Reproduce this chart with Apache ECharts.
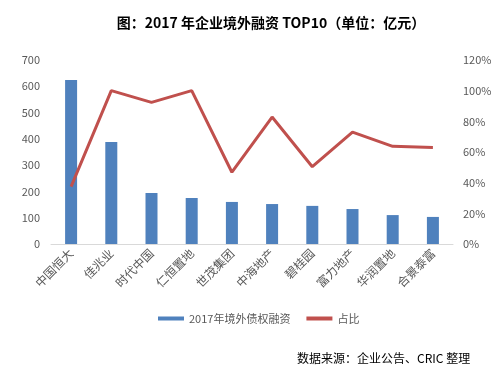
<!DOCTYPE html>
<html>
<head>
<meta charset="utf-8">
<script src="https://cdn.jsdelivr.net/npm/echarts@6/dist/echarts.min.js"></script>
<style>
  html, body { margin: 0; padding: 0; background: #fff; }
  #chart { width: 497px; height: 378px; }
</style>
</head>
<body>
<div id="chart"></div>
<script>
// data
var companies = ['中国恒大', '佳兆业', '时代中国', '仁恒置地', '世茂集团', '中海地产', '碧桂园', '富力地产', '华润置地', '合景泰富']
var amounts = [624, 388, 194, 175, 160, 152, 145, 133, 110, 103]
var shares = [37.4, 100, 92.4, 100, 46.8, 82.8, 50.4, 73, 63.7, 63]
var leftTicks = [0, 100, 200, 300, 400, 500, 600, 700]
var rightTicks = [0, 20, 40, 60, 80, 100, 120]

var font = 'Microsoft YaHei, "Noto Sans CJK SC", sans-serif'
var myChart = echarts.init(document.getElementById('chart'))
var option = {
    backgroundColor: '#fff',
    title: [{
        text: '图：2017 年企业境外融资 TOP10（单位：亿元）',
        left: 266,
        textAlign: 'center',
        top: 11,
        textStyle: { color: '#000', fontSize: 14, fontWeight: 'bold', fontFamily: font }
    }, {
        text: '数据来源：企业公告、CRIC 整理',
        left: 292,
        top: 347,
        textStyle: { color: '#000', fontSize: 12, fontWeight: 'normal', fontFamily: font }
    }],
    legend: {
        top: 308,
        left: 153,
        itemWidth: 26,
        itemHeight: 4,
        itemGap: 16,
        textStyle: { color: '#595959', fontSize: 11, fontFamily: font },
        data: [
            { name: '2017年境外债权融资', icon: 'rect' },
            { name: '占比', icon: 'rect' }
        ]
    },
    grid: { left: 51, right: 44, top: 60, height: 184 },
    xAxis: {
        type: 'category',
        data: companies,
        axisLine: { lineStyle: { color: '#d9d9d9' } },
        axisTick: { show: false },
        axisLabel: { interval: 0, rotate: 45, color: '#595959', fontSize: 12, fontFamily: font, margin: 7 }
    },
    yAxis: [{
        type: 'value',
        min: leftTicks[0],
        max: leftTicks[leftTicks.length - 1],
        interval: 100,
        axisLine: { show: false },
        axisTick: { show: false },
        splitLine: { show: false },
        axisLabel: { color: '#595959', fontSize: 11, fontFamily: font, margin: 11 }
    }, {
        type: 'value',
        min: rightTicks[0],
        max: rightTicks[rightTicks.length - 1],
        interval: 20,
        axisLine: { show: false },
        axisTick: { show: false },
        splitLine: { show: false },
        axisLabel: { color: '#595959', fontSize: 11, fontFamily: font, margin: 10, formatter: '{value}%' }
    }],
    series: [{
        name: '2017年境外债权融资',
        type: 'bar',
        data: amounts,
        barWidth: 12,
        itemStyle: { color: '#4F81BD' }
    }, {
        name: '占比',
        type: 'line',
        yAxisIndex: 1,
        data: shares,
        symbol: 'none',
        lineStyle: { color: '#C0504D', width: 3 },
        itemStyle: { color: '#C0504D' }
    }]
}
myChart.setOption(option)
</script>
</body>
</html>
